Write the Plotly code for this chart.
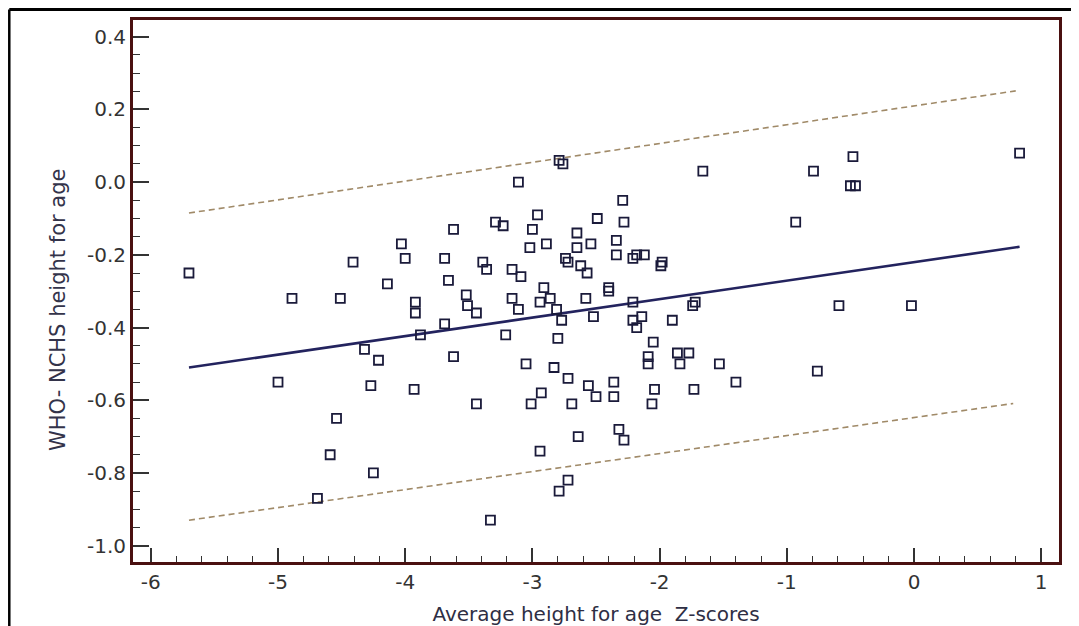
import plotly.graph_objects as go

# Scatter data: Average height-for-age Z-score (x) vs WHO-NCHS difference (y)
x_vals = [-5.70, -4.89, -4.51, -4.41, -5.00, -4.54, -4.59, -4.69, -4.14, -4.32,
          -4.21, -4.03, -2.79, -2.76, -3.11, -2.29, -3.29, -3.23, -2.96, -2.49,
          -2.28, -3.62, -3.00, -2.65, -3.02, -2.89, -2.65, -2.54, -2.34, -4.00,
          -3.69, -3.39, -3.36, -3.16, -3.09, -2.74, -2.72, -2.62, -2.57, -2.34,
          -2.21, -2.18, -2.12, -1.99, -1.98, -1.66, -3.66, -3.92, -3.92, -3.52,
          -3.51, -3.44, -3.69, -3.88, -3.62, -3.21, -3.16, -3.11, -2.91, -2.94,
          -2.86, -2.81, -2.77, -2.80, -2.58, -2.52, -2.40, -2.40, -2.21, -2.21,
          -2.14, -2.18, -1.90, -2.05, -2.09, -2.09, -1.86, -1.77, -1.84, -1.72,
          -1.74, -3.05, -2.83, -2.72, -2.56, -2.50, -2.36, -2.36, -2.04, -2.06,
          -1.73, -4.27, -3.93, -3.44, -3.01, -2.93, -2.69, -2.64, -2.32, -2.28,
          -2.94, -4.25, -2.72, -2.79, -3.33, 0.83, -0.48, -0.79, -0.93, -0.59,
          -0.02, -0.50, -0.46, -1.53, -1.40, -0.76]
y_vals = [-0.25, -0.32, -0.32, -0.22, -0.55, -0.65, -0.75, -0.87, -0.28, -0.46,
          -0.49, -0.17, 0.06, 0.05, 0.00, -0.05, -0.11, -0.12, -0.09, -0.10,
          -0.11, -0.13, -0.13, -0.14, -0.18, -0.17, -0.18, -0.17, -0.16, -0.21,
          -0.21, -0.22, -0.24, -0.24, -0.26, -0.21, -0.22, -0.23, -0.25, -0.20,
          -0.21, -0.20, -0.20, -0.23, -0.22, 0.03, -0.27, -0.33, -0.36, -0.31,
          -0.34, -0.36, -0.39, -0.42, -0.48, -0.42, -0.32, -0.35, -0.29, -0.33,
          -0.32, -0.35, -0.38, -0.43, -0.32, -0.37, -0.29, -0.30, -0.33, -0.38,
          -0.37, -0.40, -0.38, -0.44, -0.48, -0.50, -0.47, -0.47, -0.50, -0.33,
          -0.34, -0.50, -0.51, -0.54, -0.56, -0.59, -0.55, -0.59, -0.57, -0.61,
          -0.57, -0.56, -0.57, -0.61, -0.61, -0.58, -0.61, -0.70, -0.68, -0.71,
          -0.74, -0.80, -0.82, -0.85, -0.93, 0.08, 0.07, 0.03, -0.11, -0.34,
          -0.34, -0.01, -0.01, -0.50, -0.55, -0.52]

fit_x = [-5.70, 0.83]
fit_y = [-0.51, -0.178]
upper_x = [-5.70, 0.80]
upper_y = [-0.085, 0.251]
lower_x = [-5.70, 0.78]
lower_y = [-0.93, -0.609]

x_ticks = [-6, -5, -4, -3, -2, -1, 0, 1]
x_tick_labels = ["-6", "-5", "-4", "-3", "-2", "-1", "0", "1"]
y_ticks = [0.4, 0.2, 0.0, -0.2, -0.4, -0.6, -0.8, -1.0]
y_tick_labels = ["0.4", "0.2", "0.0", "-0.2", "-0.4", "-0.6", "-0.8", "-1.0"]

FRAME = "#4a1010"
FONT = "DejaVu Sans"

fig = go.Figure()
fig.add_trace(go.Scatter(x=upper_x, y=upper_y, mode="lines",
                         line=dict(color="#a08a68", width=1.6, dash="6px,4px"),
                         hoverinfo="skip", showlegend=False))
fig.add_trace(go.Scatter(x=lower_x, y=lower_y, mode="lines",
                         line=dict(color="#a08a68", width=1.6, dash="6px,4px"),
                         hoverinfo="skip", showlegend=False))
fig.add_trace(go.Scatter(x=fit_x, y=fit_y, mode="lines",
                         line=dict(color="#23235e", width=2.6),
                         showlegend=False))
fig.add_trace(go.Scatter(x=x_vals, y=y_vals, mode="markers",
                         marker=dict(symbol="square-open", size=9,
                                     color="#1a1a3a", line=dict(width=1.8, color="#1a1a3a")),
                         showlegend=False))

# Outer black border (top and left)
fig.add_shape(type="line", xref="paper", yref="paper",
              x0=-0.1336, x1=1.05, y0=1.0195, y1=1.0195,
              line=dict(color="black", width=3))
fig.add_shape(type="line", xref="paper", yref="paper",
              x0=-0.1336, x1=-0.1336, y0=1.0195, y1=-0.15,
              line=dict(color="black", width=2.5))

# Y-axis title (placed slightly below centre, as in the original)
fig.add_annotation(text="WHO- NCHS height for age", xref="paper", yref="paper",
                   x=-0.081, y=0.465, textangle=-90, showarrow=False,
                   xanchor="center", yanchor="middle",
                   font=dict(family=FONT, size=21, color="#33334a"))

fig.update_layout(
    width=1079, height=626,
    margin=dict(l=125, r=28, t=12, b=72),
    paper_bgcolor="white", plot_bgcolor="white",
    font=dict(family=FONT, size=20, color="#333333"),
    xaxis=dict(range=[-6.14, 1.14], tickvals=x_ticks, ticktext=x_tick_labels,
               showgrid=False, zeroline=False, automargin=False,
               showline=True, linecolor=FRAME, linewidth=3, mirror=True,
               ticks="inside", ticklen=14, tickwidth=1.5, tickcolor="#333333",
               minor=dict(dtick=0.2, tick0=0, ticks="inside", ticklen=6,
                          tickwidth=1.2, tickcolor="#333333"),
               tickfont=dict(size=20, color="#333333"),
               title=dict(text="Average height for age  Z-scores",
                          font=dict(size=20, color="#2e2e44"), standoff=14)),
    yaxis=dict(range=[-1.045, 0.446], tickvals=y_ticks, ticktext=y_tick_labels,
               showgrid=False, zeroline=False, automargin=False,
               showline=True, linecolor=FRAME, linewidth=3, mirror=True,
               ticks="inside", ticklen=16, tickwidth=1.5, tickcolor="#333333",
               minor=dict(dtick=0.05, tick0=0, ticks="inside", ticklen=7,
                          tickwidth=1.2, tickcolor="#333333"),
               tickfont=dict(size=20, color="#333333")),
)

fig.write_html("out.html")
